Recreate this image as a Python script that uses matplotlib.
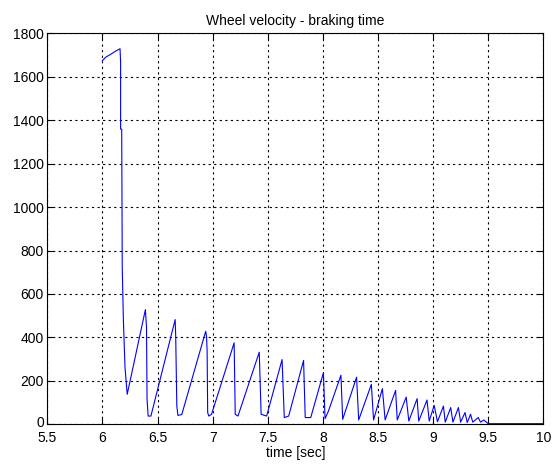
import matplotlib
matplotlib.use("Agg")
import matplotlib.pyplot as plt
import matplotlib.transforms as mtransforms

plt.rcParams['font.family'] = ['Liberation Sans', 'DejaVu Sans']

title = "Wheel velocity - braking time"
xlabel = "time [sec]"
xticks = [5.5, 6, 6.5, 7, 7.5, 8, 8.5, 9, 9.5, 10]
xticklabels = ["5.5", "6", "6.5", "7", "7.5", "8", "8.5", "9", "9.5", "10"]
yticks = [0, 200, 400, 600, 800, 1000, 1200, 1400, 1600, 1800]

time = [6.00, 6.03, 6.08, 6.12, 6.16, 6.165, 6.165, 6.175, 6.18, 6.19, 6.205, 6.225,
        6.39, 6.395, 6.40, 6.405, 6.415, 6.44,
        6.66, 6.665, 6.675, 6.685, 6.72,
        6.937, 6.945, 6.95, 6.955, 6.965, 6.99,
        7.195, 7.205, 7.23,
        7.423, 7.44, 7.49,
        7.63, 7.65, 7.69,
        7.825, 7.84, 7.89,
        8.005, 8.02, 8.05,
        8.164, 8.18,
        8.306, 8.325,
        8.44, 8.46,
        8.54, 8.565,
        8.66, 8.675,
        8.756, 8.78,
        8.855, 8.87,
        8.945, 8.965,
        9.01, 9.04,
        9.094, 9.11,
        9.16, 9.18,
        9.23, 9.25,
        9.29, 9.31,
        9.34, 9.36,
        9.41, 9.43, 9.46, 9.50, 10.0]
velocity = [1674, 1690, 1705, 1718, 1729, 1665, 1359, 1359, 720, 485, 262, 138,
            528, 485, 451, 115, 38, 38,
            482, 405, 84, 41, 45,
            428, 405, 336, 54, 38, 46,
            375, 46, 38,
            332, 46, 38,
            298, 31, 38,
            294, 31, 31,
            237, 26, 60,
            226, 23,
            217, 20,
            184, 20,
            164, 20,
            156, 20,
            125, 15,
            118, 15,
            112, 15,
            87, 12,
            84, 10,
            77, 10,
            77, 10,
            54, 8,
            46, 10,
            31, 10, 20, 3, 3]

fig = plt.figure(figsize=(5.56, 4.66), dpi=100)
ax = fig.add_axes([47.3/556, 41.7/466, 496/556, 391/466])
ax.plot(time, velocity, color='#0000ff', linewidth=0.8)
ax.set_xlim(5.5, 10)
ax.set_ylim(0, 1800)
ax.set_xticks(xticks)
ax.set_xticklabels(xticklabels)
ax.set_yticks(yticks)
ax.grid(True, linestyle=(0, (2, 3)), color='black', linewidth=0.8)
ax.tick_params(direction='in', labelsize=10, length=4, top=True, right=True)
ax.tick_params(axis='y', pad=2.5)
ax.tick_params(axis='x', pad=4.5)
for s in ax.spines.values():
    s.set_linewidth(0.8)
ax.set_title(title, fontsize=10, pad=6)
ax.set_xlabel(xlabel, fontsize=10, labelpad=1)

fig.canvas.draw()
ylab0 = ax.get_yticklabels()[0]
ylab0.set_transform(ylab0.get_transform() +
                    mtransforms.ScaledTranslation(0, 3/100, fig.dpi_scale_trans))
fig.savefig("out.png", dpi=100)
